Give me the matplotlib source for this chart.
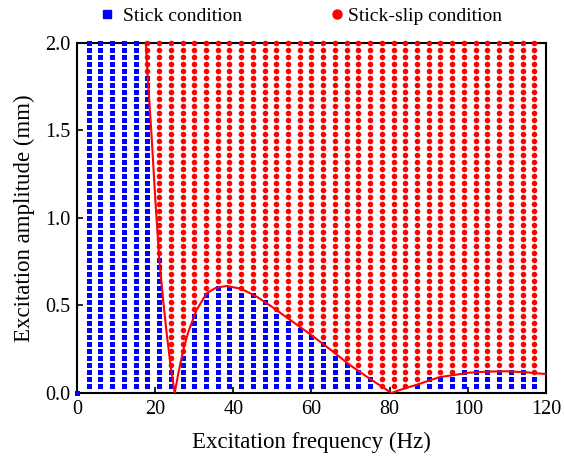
import numpy as np
import matplotlib
matplotlib.use("Agg")
import matplotlib.pyplot as plt
from matplotlib.lines import Line2D

plt.rcParams['font.family'] = ['Liberation Serif', 'DejaVu Serif']
plt.rcParams['mathtext.fontset'] = 'stix'

# Tested excitation frequencies (Hz) - columns of the test grid
frequencies = [3, 6, 9, 12, 15, 18, 21, 24, 27, 30, 33, 36, 39, 42, 45, 48, 51, 54, 57, 60,
               63, 66, 69, 72, 75, 78, 81, 84, 87, 90, 93, 96, 99, 102, 105, 108, 111, 114, 117]
# Tested excitation amplitudes (mm) - rows of the test grid
amplitudes = [0.04, 0.08, 0.12, 0.16, 0.20, 0.24, 0.28, 0.32, 0.36, 0.40,
              0.44, 0.48, 0.52, 0.56, 0.60, 0.64, 0.68, 0.72, 0.76, 0.80,
              0.84, 0.88, 0.92, 0.96, 1.00, 1.04, 1.08, 1.12, 1.16, 1.20,
              1.24, 1.28, 1.32, 1.36, 1.40, 1.44, 1.48, 1.52, 1.56, 1.60,
              1.64, 1.68, 1.72, 1.76, 1.80, 1.84, 1.88, 1.92, 1.96, 2.00]
# Highest amplitude still in stick condition for each frequency column (0 = none)
stick_max = [2.0, 2.0, 2.0, 2.0, 2.0, 1.80, 0.76, 0.12, 0.20, 0.44, 0.56, 0.60, 0.60, 0.56,
             0.56, 0.52, 0.44, 0.40, 0.36, 0.32, 0.28, 0.20, 0.16, 0.12, 0.08, 0.0, 0.0, 0.0,
             0.04, 0.08, 0.08, 0.08, 0.12, 0.12, 0.12, 0.12, 0.12, 0.12, 0.08]
# Extra stick point at origin
origin_freq = [0]
origin_amp = [0.0]

# Boundary curve
boundary_freq = [17.6, 18.0, 19.0, 20.0, 21.0, 22.0, 23.0, 24.0, 25.0, 26.0, 27.2, 28.5, 30.6,
                 33.2, 35.5, 38.3, 42.0, 46.0, 50.0, 55.0, 60.0, 65.0, 69.8, 75.0, 80.5, 83.0,
                 86.8, 92.7, 100.4, 105.0, 109.8, 115.0, 120.0]
boundary_amp = [2.0, 1.84, 1.50, 1.12, 0.78, 0.54, 0.33, 0.15, 0.0, 0.12, 0.246, 0.35, 0.474,
                0.57, 0.60, 0.611, 0.595, 0.55, 0.49, 0.41, 0.33, 0.245, 0.16, 0.08, 0.0, 0.02,
                0.046, 0.09, 0.116, 0.122, 0.124, 0.118, 0.108]

stick_x, stick_y, slip_x, slip_y = [], [], [], []
for f, smax in zip(frequencies, stick_max):
    for a in amplitudes:
        if a <= smax + 1e-9:
            stick_x.append(f); stick_y.append(a)
        else:
            slip_x.append(f); slip_y.append(a)

fig = plt.figure(figsize=(5.64, 4.62), dpi=100)
ax = fig.add_axes([0.1365, 0.1494, 0.8315, 0.7582])

sq = ax.scatter(stick_x + origin_freq, stick_y + origin_amp, marker='s', s=13, color='#0000ff',
                linewidths=0, clip_on=False, zorder=3)
sq.set_snap(False)
ci = ax.scatter(slip_x, slip_y, marker='o', s=16, color='#ff0000', linewidths=0,
                clip_on=False, zorder=3)
ci.set_snap(False)
ax.plot(boundary_freq, boundary_amp, color='#ff0000', lw=1.5, zorder=4, clip_on=True)

ax.set_xlim(0, 120)
ax.set_ylim(0, 2.0)
ax.set_xticks([0, 20, 40, 60, 80, 100, 120])
ax.set_yticks([0.0, 0.5, 1.0, 1.5, 2.0])
ax.set_yticklabels(['0.0', '0.5', '1.0', '1.5', '2.0'])
ax.tick_params(direction='in', length=4, width=1.2, labelsize=14.5, pad=5)
for s in ax.spines.values():
    s.set_linewidth(1.5)
    s.set_zorder(2)

ax.set_xlabel('Excitation frequency (Hz)', fontsize=16.5, labelpad=9)
ax.set_ylabel('Excitation amplitude (mm)', fontsize=16.5, labelpad=7)

fs = 14
h_blue = Line2D([], [], marker='s', ls='', color='#0000ff', markersize=5.5)
h_red = Line2D([], [], marker='o', ls='', color='#ff0000', markersize=6.5)
fig.legend([h_blue], ['Stick condition'], loc='center left',
           bbox_to_anchor=(97.3 / 564, 0.966), frameon=False, fontsize=fs,
           handlelength=1.0, handletextpad=0.32, borderaxespad=0, borderpad=0)
fig.legend([h_red], ['Stick-slip condition'], loc='center left',
           bbox_to_anchor=(327.3 / 564, 0.966), frameon=False, fontsize=fs,
           handlelength=1.0, handletextpad=0.07, borderaxespad=0, borderpad=0)

fig.savefig('out.png', dpi=100)
